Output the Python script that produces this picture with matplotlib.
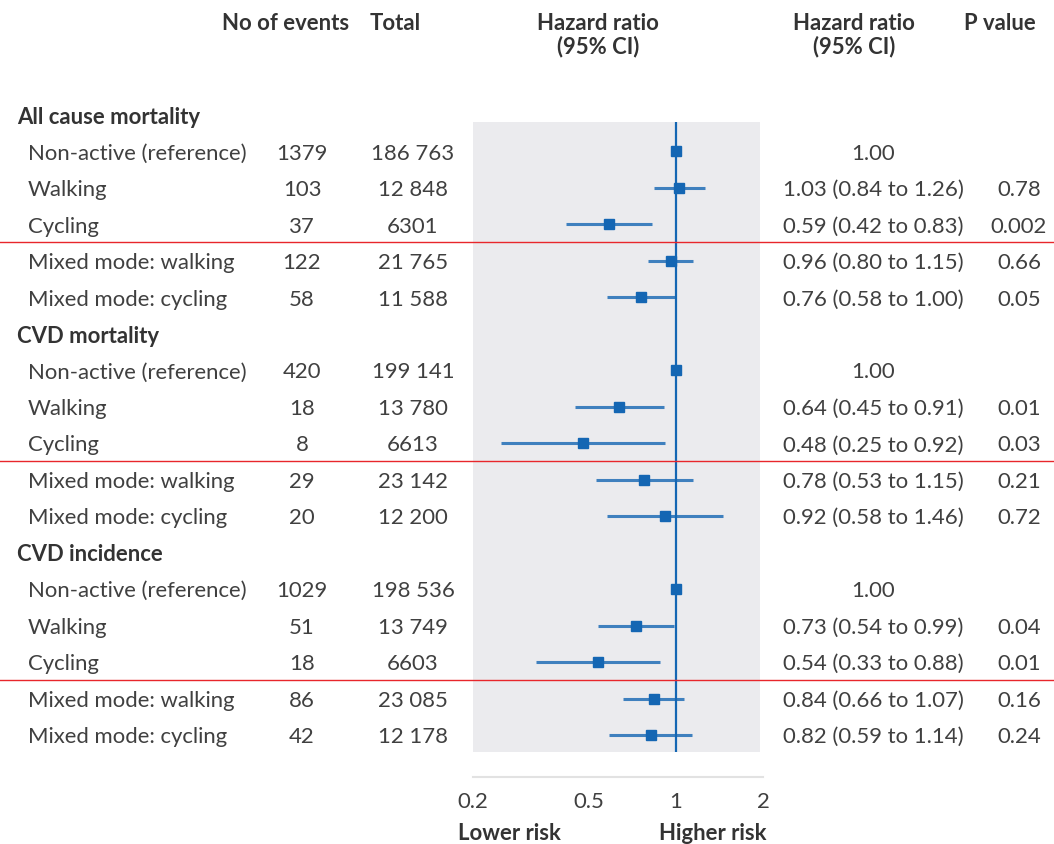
import numpy as np
import matplotlib
matplotlib.use("Agg")
import matplotlib.pyplot as plt
from matplotlib.transforms import blended_transform_factory
from matplotlib.patches import Rectangle

# ---- data ----
sections = ["All cause mortality", "CVD mortality", "CVD incidence"]
groups = ["Non-active (reference)", "Walking", "Cycling",
          "Mixed mode: walking", "Mixed mode: cycling"]
events = [[1379, 103, 37, 122, 58],
          [420, 18, 8, 29, 20],
          [1029, 51, 18, 86, 42]]
totals = [[186763, 12848, 6301, 21765, 11588],
          [199141, 13780, 6613, 23142, 12200],
          [198536, 13749, 6603, 23085, 12178]]
hr = [[1.00, 1.03, 0.59, 0.96, 0.76],
      [1.00, 0.64, 0.48, 0.78, 0.92],
      [1.00, 0.73, 0.54, 0.84, 0.82]]
ci_lo = [[np.nan, 0.84, 0.42, 0.80, 0.58],
         [np.nan, 0.45, 0.25, 0.53, 0.58],
         [np.nan, 0.54, 0.33, 0.66, 0.59]]
ci_hi = [[np.nan, 1.26, 0.83, 1.15, 1.00],
         [np.nan, 0.91, 0.92, 1.15, 1.46],
         [np.nan, 0.99, 0.88, 1.07, 1.14]]
pvals = [["", "0.78", "0.002", "0.66", "0.05"],
         ["", "0.01", "0.03", "0.21", "0.72"],
         ["", "0.04", "0.01", "0.16", "0.24"]]
xticks = [0.2, 0.5, 1, 2]
xticklabels = ["0.2", "0.5", "1", "2"]

# ---- style ----
FONT = "Lato"
FS = 15.9
TXT = "#404040"
HDR = "#333333"
BLUE = "#1466b3"
GRAY_BG = "#ebebee"
RED = "#e8262b"
W, H = 1054, 844

plt.rcParams["font.family"] = [FONT, "DejaVu Sans"]
fig = plt.figure(figsize=(W / 100, H / 100), dpi=100)

row0_px, row_step = 115.0, 36.47
ax_top_px, ax_bot_px = 100.0, 777.0
ax_left_px, ax_right_px = 473.0, 763.0
ax = fig.add_axes([ax_left_px / W, 1 - ax_bot_px / H,
                   (ax_right_px - ax_left_px) / W, (ax_bot_px - ax_top_px) / H])
ax.set_xscale("log")
ax.set_xlim(0.2, 2)
ax.set_ylim((ax_bot_px - row0_px) / row_step, (ax_top_px - row0_px) / row_step)
for s in ["top", "left", "right"]:
    ax.spines[s].set_visible(False)
ax.spines["bottom"].set_color("#e2e2e2")
ax.spines["bottom"].set_linewidth(1.5)
ax.set_yticks([])
ax.set_xticks(xticks)
ax.set_xticklabels(xticklabels)
ax.xaxis.set_minor_locator(matplotlib.ticker.NullLocator())
ax.tick_params(axis="x", length=0, pad=11, labelsize=FS, labelcolor=TXT)
ax.patch.set_alpha(0)

# gray background panel
bg_top = (122 - row0_px) / row_step
bg_bot = (752 - row0_px) / row_step
ax.add_patch(Rectangle((-0.01, bg_top), 1.0, bg_bot - bg_top,
                       transform=blended_transform_factory(ax.transAxes, ax.transData),
                       facecolor=GRAY_BG, edgecolor="none", zorder=0))

# reference line
ax.plot([1, 1], [bg_top, bg_bot], color=BLUE, lw=1.6, zorder=2, solid_capstyle="butt")

tx = blended_transform_factory(fig.transFigure, ax.transData)
DY = 0.06  # small downward nudge for text


def fx(px):
    return px / W


def fmt_total(v):
    return f"{v:,}".replace(",", " ") if v >= 10000 else str(v)


row = 0
for si, sec in enumerate(sections):
    fig.text(fx(17), row + DY, sec, transform=tx, fontsize=FS, fontweight="bold",
             color=HDR, va="center", ha="left")
    for gi, g in enumerate(groups):
        r = row + 1 + gi
        rt = r + DY
        fig.text(fx(28), rt, g, transform=tx, fontsize=FS, color=TXT, va="center", ha="left")
        fig.text(fx(302), rt, str(events[si][gi]), transform=tx, fontsize=FS, color=TXT,
                 va="center", ha="center")
        fig.text(fx(413), rt, fmt_total(totals[si][gi]), transform=tx, fontsize=FS, color=TXT,
                 va="center", ha="center")
        h = hr[si][gi]
        lo, hi = ci_lo[si][gi], ci_hi[si][gi]
        if np.isnan(lo):
            label = f"{h:.2f}"
        else:
            label = f"{h:.2f} ({lo:.2f} to {hi:.2f})"
            ax.plot([lo, hi], [r, r], color=BLUE, lw=2.2, alpha=0.8, zorder=3,
                    solid_capstyle="butt")
        ax.plot([h], [r], marker="s", ms=7.3, color=BLUE, mec=BLUE, zorder=4, clip_on=False)
        fig.text(fx(873), rt, label, transform=tx, fontsize=FS, color=TXT, va="center", ha="center")
        fig.text(fx(1019), rt, pvals[si][gi], transform=tx, fontsize=FS, color=TXT,
                 va="center", ha="center")
    # red separator between cycling and mixed mode rows
    sep = row + 3.5 - 0.02
    fig.add_artist(plt.Line2D([0, 1], [sep, sep], transform=tx, color=RED, lw=1.0))
    row += 6


def fy(px):
    return 1 - px / H


hdr = dict(fontsize=FS, fontweight="bold", color=HDR, va="center")
fig.text(fx(286), fy(23), "No of events", ha="center", **hdr)
fig.text(fx(395), fy(23), "Total", ha="center", **hdr)
fig.text(fx(598), fy(23), "Hazard ratio", ha="center", **hdr)
fig.text(fx(598), fy(47), "(95% CI)", ha="center", **hdr)
fig.text(fx(854), fy(23), "Hazard ratio", ha="center", **hdr)
fig.text(fx(854), fy(47), "(95% CI)", ha="center", **hdr)
fig.text(fx(1000), fy(23), "P value", ha="center", **hdr)

fig.text(fx(509), fy(833), "Lower risk", ha="center", **hdr)
fig.text(fx(713), fy(833), "Higher risk", ha="center", **hdr)

fig.savefig("out.png", dpi=100, facecolor="white")
